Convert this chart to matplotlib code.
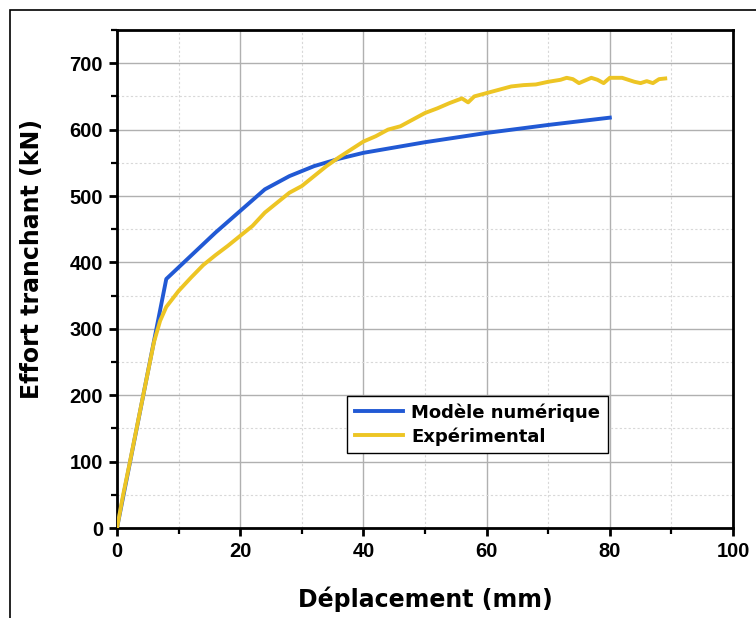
import matplotlib
matplotlib.use("Agg")
import matplotlib.pyplot as plt
from matplotlib.patches import Rectangle
from matplotlib.ticker import MultipleLocator

num_x = [0, 8, 16, 24, 28, 32, 36, 40, 50, 60, 70, 80]
num_y = [0, 375, 445, 510, 530, 545, 556, 565, 581, 595, 607, 618]

exp_x = [0, 1, 2, 4, 6, 7, 8, 10, 12, 14, 16, 18, 20, 22, 24, 26, 28, 30, 32, 34, 36, 38,
         40, 42, 44, 46, 48, 50, 52, 54, 56, 57, 58, 60, 62, 64, 66, 68, 70, 72, 73, 74,
         75, 76, 77, 78, 79, 80, 82, 84, 85, 86, 87, 88, 89]
exp_y = [0, 50, 95, 188, 280, 312, 333, 357, 377, 396, 411, 425, 440, 455, 475, 490, 505, 515,
         530, 545, 558, 570, 582, 590, 600, 605, 615, 625, 632, 640, 647, 641, 650, 655,
         660, 665, 667, 668, 672, 675, 678, 676, 670, 674, 678, 675, 670, 678, 678, 672,
         670, 673, 670, 676, 677]

xticks = [0, 20, 40, 60, 80, 100]
yticks = [0, 100, 200, 300, 400, 500, 600, 700]

fig = plt.figure(figsize=(7.56, 6.18), dpi=100)
ax = fig.add_axes([117 / 756, 1 - 528 / 618, 616 / 756, 498 / 618])

ax.plot(num_x, num_y, color="#2159d4", lw=2.8, label="Modèle numérique", zorder=3)
ax.plot(exp_x, exp_y, color="#edc524", lw=2.8, label="Expérimental", zorder=3)

ax.set_xlim(0, 100)
ax.set_ylim(0, 750)
ax.set_xticks(xticks)
ax.set_yticks(yticks)
ax.xaxis.set_minor_locator(MultipleLocator(10))
ax.yaxis.set_minor_locator(MultipleLocator(50))
ax.grid(True, which="major", color="#b0b0b0", lw=1.0)
ax.grid(True, which="minor", color="#d8d8d8", lw=0.8, ls=(0, (2, 2)))
ax.set_axisbelow(True)

tick_font = dict(family=["Liberation Sans Narrow", "Liberation Sans", "DejaVu Sans"], weight="bold", size=14.5)
ax.set_xticklabels([str(t) for t in xticks], **tick_font)
ax.set_yticklabels([str(t) for t in yticks], **tick_font)
ax.tick_params(which="major", direction="out", length=6, width=2, pad=4)
ax.tick_params(which="minor", direction="out", length=4, width=1.6)
ax.tick_params(axis="x", which="both", top=False)
ax.tick_params(axis="y", which="both", right=False)
for s in ax.spines.values():
    s.set_linewidth(2)
    s.set_color("black")

lab_font = dict(family=["DejaVu Sans"], weight="bold")
ax.set_xlabel("Déplacement (mm)", fontsize=17, **lab_font)
ax.set_ylabel("Effort tranchant (kN)", fontsize=17, **lab_font)
ax.xaxis.set_label_coords(0.5, -0.118)
ax.yaxis.set_label_coords(-0.118, 0.54)

leg = ax.legend(loc="upper left", bbox_to_anchor=(0.374, 0.265),
                frameon=True, fancybox=False, edgecolor="black", framealpha=1,
                prop=dict(family=["DejaVu Sans"], weight="bold", size=13),
                handlelength=2.7, borderpad=0.4, labelspacing=0.3, handletextpad=0.45,
                borderaxespad=0)
leg.get_frame().set_linewidth(1.0)

fig.patches.append(Rectangle((10 / 756, -0.01), 1.0, 1 - 10 / 618 + 0.01, transform=fig.transFigure,
                             fill=False, edgecolor="black", lw=1.2))

fig.savefig("out.png", dpi=100)
